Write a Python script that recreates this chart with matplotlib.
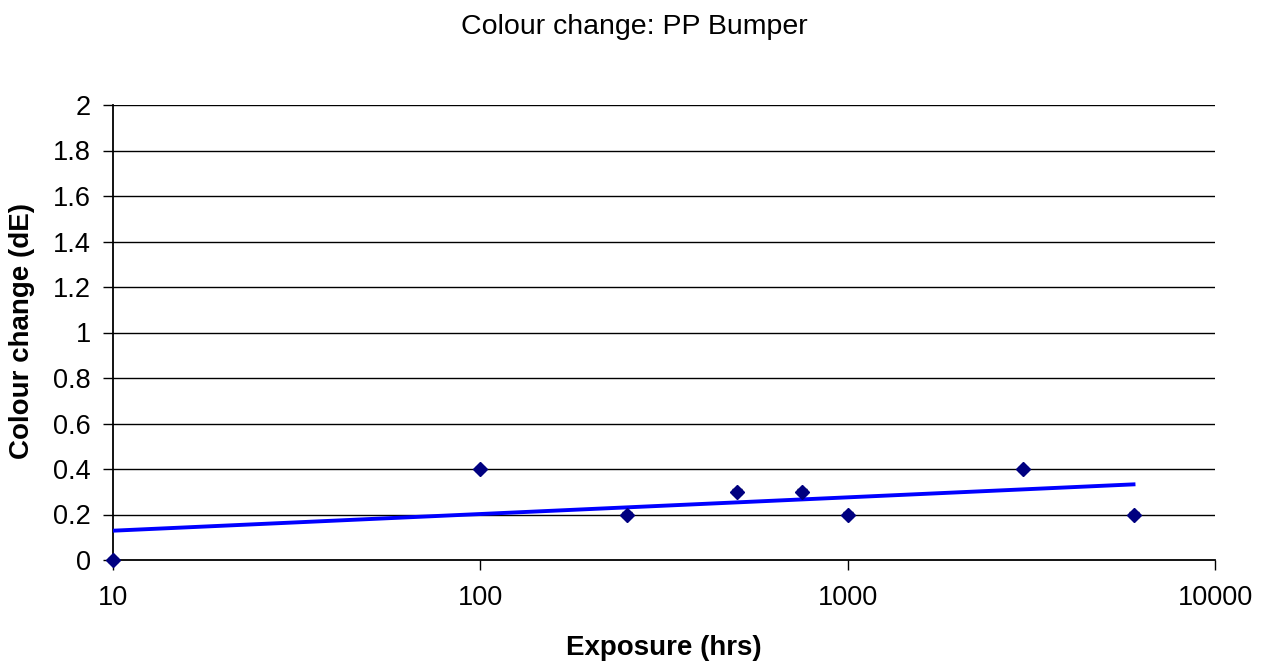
import numpy as np
import matplotlib
matplotlib.use("Agg")
import matplotlib.pyplot as plt
from matplotlib.ticker import FixedLocator, FixedFormatter, NullLocator

plt.rcParams['font.family'] = ['Liberation Sans', 'DejaVu Sans']

exposure_hrs = [10, 100, 250, 500, 750, 1000, 3000, 6000]
colour_change = [0.0, 0.4, 0.2, 0.3, 0.3, 0.2, 0.4, 0.2]
colour_err = [0.01, 0.01, 0.01, 0.01, 0.01, 0.01, 0.01, 0.01]
y_ticks = [0, 0.2, 0.4, 0.6, 0.8, 1, 1.2, 1.4, 1.6, 1.8, 2]
y_tick_labels = ['0', '0.2', '0.4', '0.6', '0.8', '1', '1.2', '1.4', '1.6', '1.8', '2']
x_ticks = [10, 100, 1000, 10000]
x_tick_labels = ['10', '100', '1000', '10000']

W, H = 1265, 666
fig = plt.figure(figsize=(W / 100, H / 100), dpi=100)
ax = fig.add_axes([113 / W, 1 - 560 / H, (1215 - 113) / W, (560 - 105) / H])

ax.set_xscale('log')
ax.set_xlim(10, 10000)
ax.set_ylim(0, 2)

# horizontal gridlines
for yv in y_ticks[1:]:
    ax.axhline(yv, color='black', linewidth=1.0, zorder=1)

# logarithmic trendline fitted to the data
lx = np.log10(exposure_hrs)
slope, intercept = np.polyfit(lx, colour_change, 1)
xt = np.array([exposure_hrs[0], exposure_hrs[-1]], dtype=float)
ax.plot(xt, slope * np.log10(xt) + intercept, color='#0000FF', linewidth=2.8, zorder=3)

ax.errorbar(exposure_hrs, colour_change, yerr=colour_err, fmt='D', color='#000080',
            markersize=7.5, ecolor='black', elinewidth=1, capsize=3.5, capthick=1,
            zorder=4, clip_on=False)

ax.yaxis.set_major_locator(FixedLocator(y_ticks))
ax.yaxis.set_major_formatter(FixedFormatter(y_tick_labels))
ax.xaxis.set_major_locator(FixedLocator(x_ticks))
ax.xaxis.set_major_formatter(FixedFormatter(x_tick_labels))
ax.xaxis.set_minor_locator(NullLocator())
ax.yaxis.set_minor_locator(NullLocator())

ax.tick_params(axis='y', direction='out', length=7, width=1, labelsize=19.5, pad=9)
ax.tick_params(axis='x', direction='out', length=7, width=1, labelsize=19.5, pad=11)

for side in ['top', 'right']:
    ax.spines[side].set_visible(False)
for side in ['left', 'bottom']:
    ax.spines[side].set_linewidth(1.3)
    ax.spines[side].set_zorder(2)

ax.set_xlabel('Exposure (hrs)', fontsize=20, fontweight='bold', va='center')
ax.set_ylabel('Colour change (dE)', fontsize=20, fontweight='bold', va='center')
ax.xaxis.set_label_coords(0.5, (560 - 648) / 455)
ax.yaxis.set_label_coords((22 - 113) / 1102, (560 - 331) / 455)
fig.text(634 / W, 1 - 27 / H, 'Colour change: PP Bumper', fontsize=20.5,
         ha='center', va='center')

fig.savefig('out.png', dpi=100)
